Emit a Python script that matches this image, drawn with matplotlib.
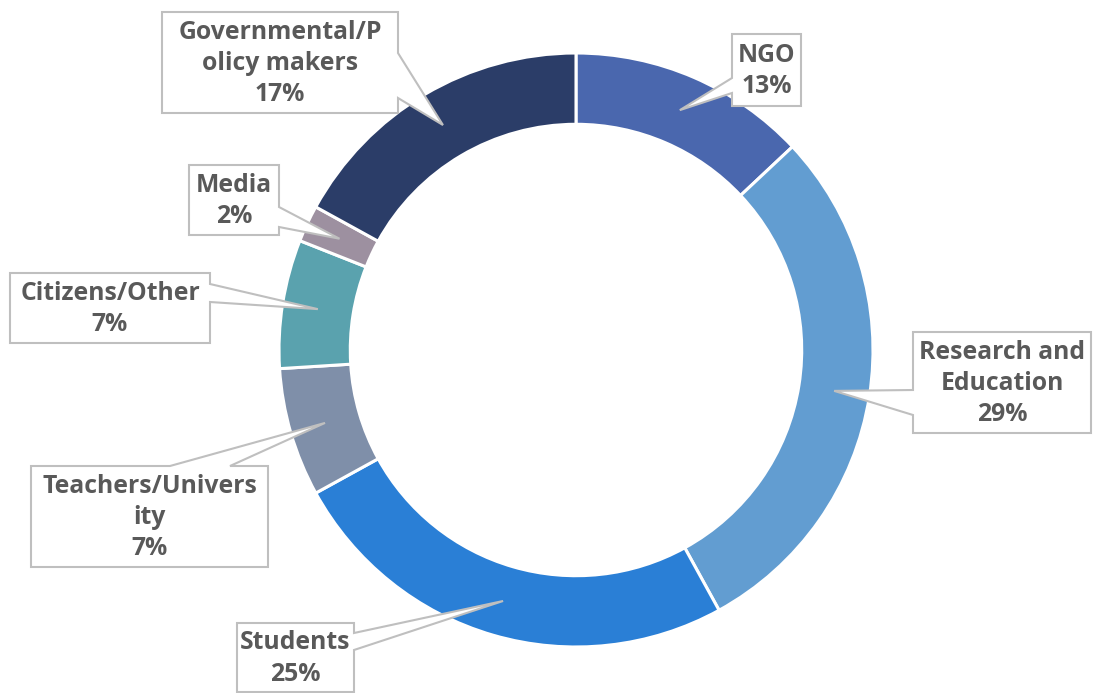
import matplotlib
matplotlib.use("Agg")
import matplotlib.pyplot as plt
from matplotlib.patches import Polygon
import numpy as np

categories = ["NGO", "Research and\nEducation", "Students", "Teachers/Univers\nity",
              "Citizens/Other", "Media", "Governmental/P\nolicy makers"]
shares = [13, 29, 25, 7, 7, 2, 17]
pct_labels = ["13%", "29%", "25%", "7%", "7%", "2%", "17%"]
colors = ["#4A67AE", "#629DD1", "#2A7FD6", "#7F8FA9", "#5AA2AE", "#9D90A0", "#2B3D68"]

W, H = 1113, 693
CX, CY, R = 576, 350, 297
RING = 0.24

fig = plt.figure(figsize=(W / 100, H / 100), dpi=100)
ax = fig.add_axes([0, 0, 1, 1])
wedges, _ = ax.pie(shares, colors=colors, startangle=90, counterclock=False, radius=1,
                   wedgeprops=dict(width=RING, edgecolor="white", linewidth=2.2))
ax.set_xlim(-CX / R, (W - CX) / R)
ax.set_ylim(-(H - CY) / R, CY / R)
ax.set_aspect("equal")
ax.axis("off")


def p2d(px, py):
    return ((px - CX) / R, (CY - py) / R)


# label box layout in pixels: (x0, y0, x1, y1), pointer side, two attachment coords
boxes = [
    ((732, 34, 801, 106), "left", (78, 93)),
    ((913, 332, 1091, 433), "left", (390, 415)),
    ((237, 623, 354, 692), "right", (633, 650)),
    ((31, 466, 268, 567), "top", (170, 230)),
    ((10, 273, 210, 343), "right", (284, 302)),
    ((189, 165, 279, 235), "right", (207, 227)),
    ((162, 12, 398, 113), "right", (53, 98)),
]

for w, cat, pct, (box, side, (a, b)) in zip(wedges, categories, pct_labels, boxes):
    th = np.deg2rad((w.theta1 + w.theta2) / 2)
    rr = w.r - RING / 2
    tip = (rr * np.cos(th), rr * np.sin(th))
    x0, y0, x1, y1 = box
    TL, TR, BR, BL = (x0, y0), (x1, y0), (x1, y1), (x0, y1)
    if side == "top":
        pts = [TL, (a, y0), None, (b, y0), TR, BR, BL]
    elif side == "right":
        pts = [TL, TR, (x1, a), None, (x1, b), BR, BL]
    elif side == "bottom":
        pts = [TL, TR, BR, (b, y1), None, (a, y1), BL]
    else:
        pts = [TL, TR, BR, BL, (x0, b), None, (x0, a)]
    verts = [tip if p is None else p2d(*p) for p in pts]
    ax.add_patch(Polygon(verts, closed=True, facecolor="white", edgecolor="#BFBFBF",
                         linewidth=1.5, zorder=5, joinstyle="miter"))
    cx, cy = p2d((x0 + x1) / 2, (y0 + y1) / 2 + 1)
    ax.text(cx, cy, cat + "\n" + pct, ha="center", va="center", fontsize=17.8,
            fontweight="bold", color="#595959", linespacing=1.32, zorder=6,
            family="Open Sans")

fig.savefig("out.png", dpi=100)
